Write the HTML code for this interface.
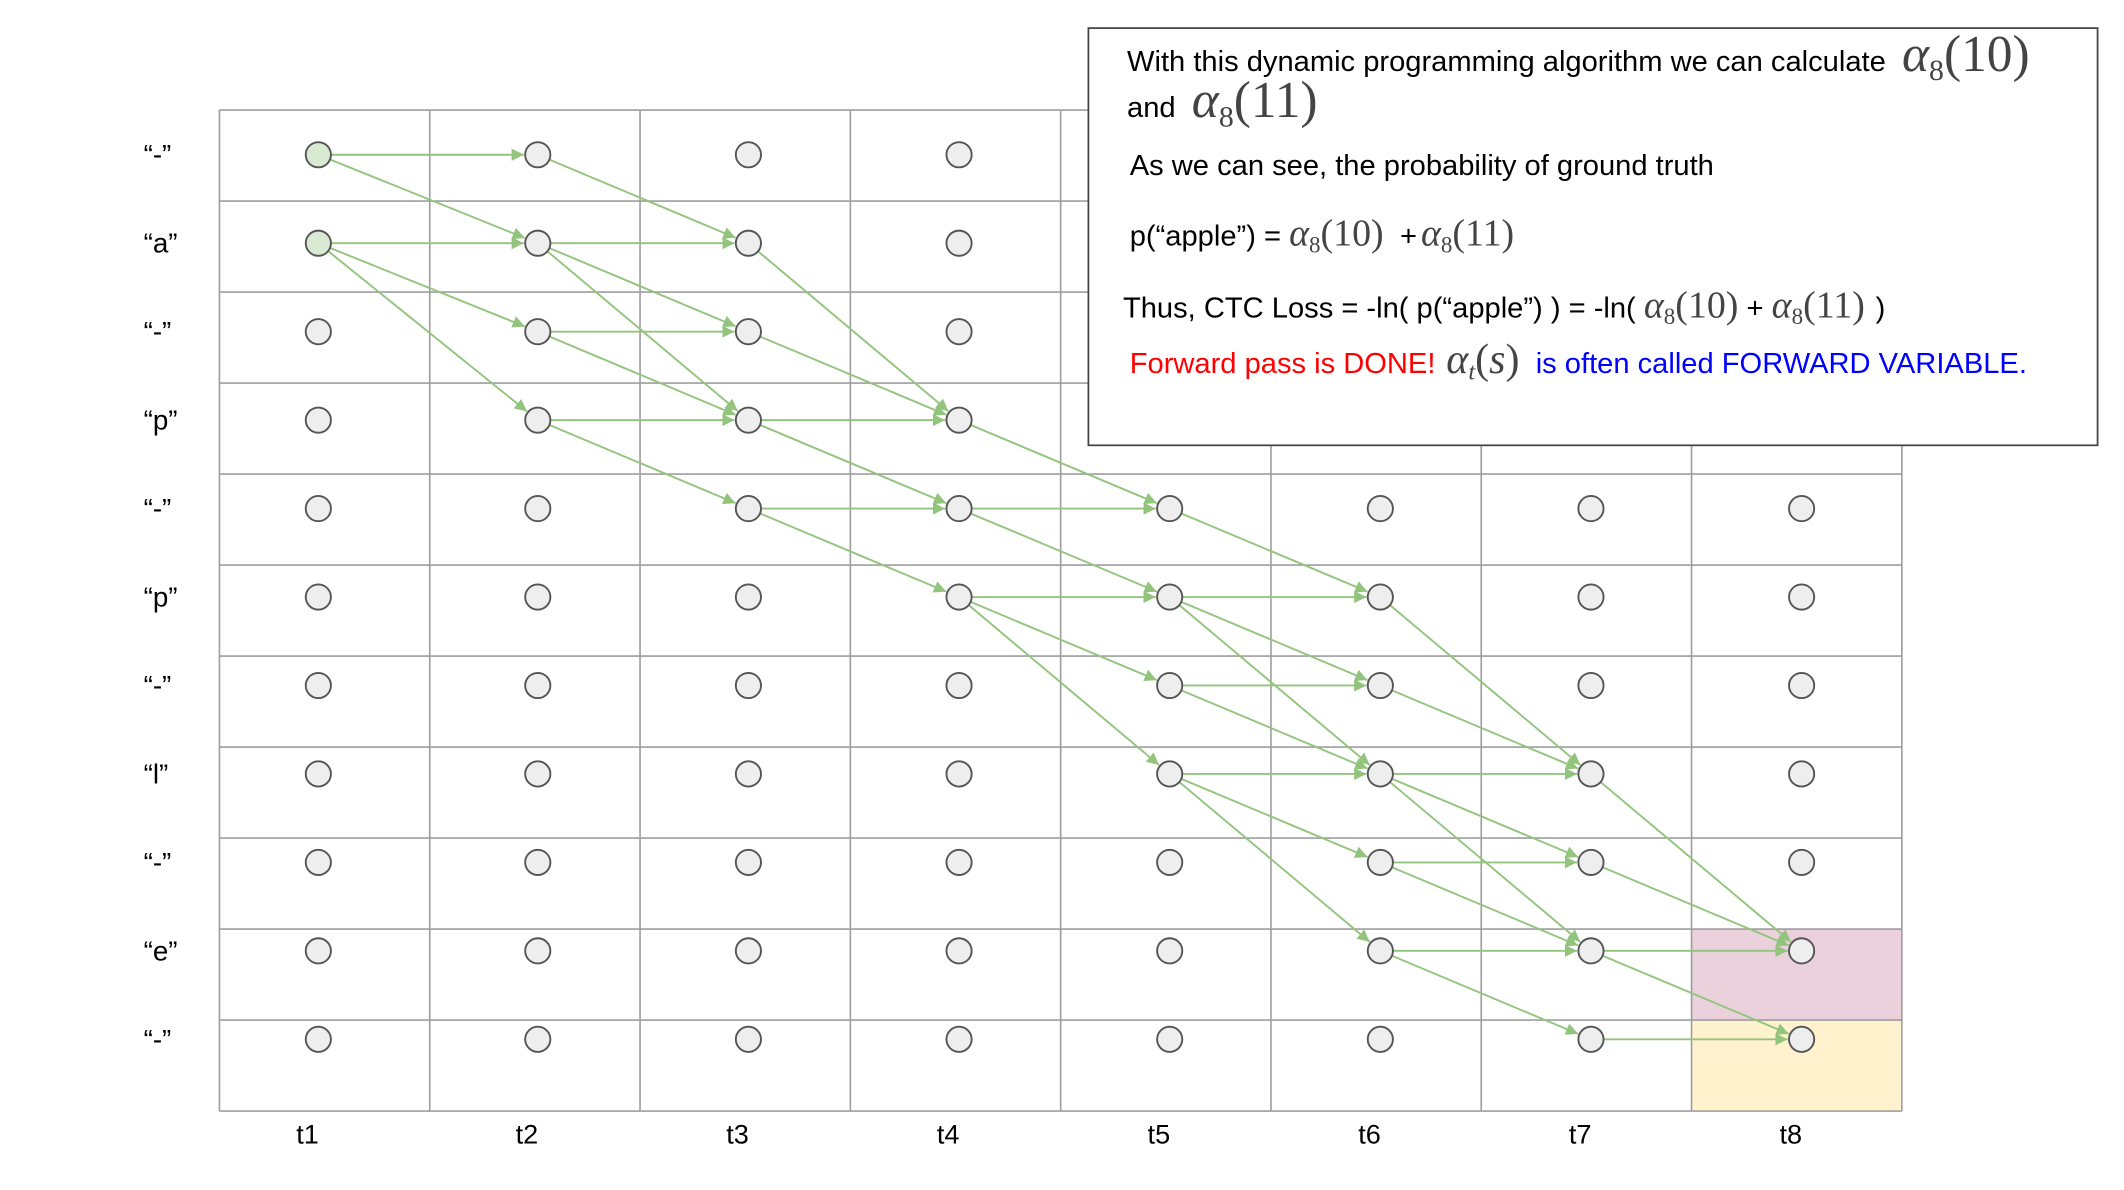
<!DOCTYPE html>
<html><head><meta charset="utf-8"><style>
html,body{margin:0;padding:0;background:#fff;width:2124px;height:1190px;overflow:hidden}
svg{display:block}
text{font-family:"Liberation Sans",sans-serif}
.m{font-family:"Liberation Serif",serif;font-style:italic;fill:#444}
.mn{font-family:"Liberation Serif",serif;fill:#444;font-style:normal}
</style></head><body>
<svg id="chart" width="2124" height="1190" viewBox="0 0 1568 878" xmlns="http://www.w3.org/2000/svg">
<defs><marker id="ah" viewBox="0 0 10 10" refX="10" refY="5" markerWidth="9" markerHeight="9" markerUnits="userSpaceOnUse" orient="auto"><path d="M0,0 L10,5 L0,10 z" fill="#93c47d"/></marker></defs>
<g id="cells"></g><g id="grid"></g><g id="edges"></g><g id="nodes"></g><g id="labels"></g>
<g>
<rect x="803.5" y="20.5" width="745" height="308" fill="#fff" stroke="#444" stroke-width="1.3"/>
<text x="832" y="52" font-size="21.5">With this dynamic programming algorithm we can calculate <tspan class="m" font-size="38" dx="6">α</tspan><tspan class="mn" font-size="22" dy="7">8</tspan><tspan class="mn" font-size="38" dy="-7">(10)</tspan></text>
<text x="832" y="86" font-size="21.5">and <tspan class="m" font-size="38" dx="6">α</tspan><tspan class="mn" font-size="22" dy="7">8</tspan><tspan class="mn" font-size="38" dy="-7">(11)</tspan></text>
<text x="834" y="129" font-size="21.5">As we can see, the probability of ground truth</text>
<text x="834" y="181" font-size="21.5">p(“apple”) = <tspan class="m" font-size="28">α</tspan><tspan class="mn" font-size="17" dy="5">8</tspan><tspan class="mn" font-size="28" dy="-5">(10)</tspan><tspan dx="12">+</tspan><tspan class="m" font-size="28" dx="3">α</tspan><tspan class="mn" font-size="17" dy="5">8</tspan><tspan class="mn" font-size="28" dy="-5">(11)</tspan></text>
<text x="829" y="234" font-size="21.5">Thus, CTC Loss = -ln( p(“apple”) ) = -ln( <tspan class="m" font-size="28">α</tspan><tspan class="mn" font-size="17" dy="5">8</tspan><tspan class="mn" font-size="28" dy="-5">(10)</tspan><tspan dx="6">+</tspan><tspan class="m" font-size="28" dx="6">α</tspan><tspan class="mn" font-size="17" dy="5">8</tspan><tspan class="mn" font-size="28" dy="-5">(11)</tspan><tspan dx="8">)</tspan></text>
<text x="834" y="275" font-size="21.5"><tspan fill="#ff0000">Forward pass is DONE!</tspan><tspan class="m" font-size="31" dx="8">α</tspan><tspan class="m" font-size="18" dy="5">t</tspan><tspan class="mn" font-size="31" dy="-5">(</tspan><tspan class="m" font-size="31">s</tspan><tspan class="mn" font-size="31">)</tspan><tspan fill="#0000ff" dx="12">is often called FORWARD VARIABLE.</tspan></text>
</g>
</svg>
<script>
const timeLabels=["t1","t2","t3","t4","t5","t6","t7","t8"];
const stateLabels=["“-”","“a”","“-”","“p”","“-”","“p”","“-”","“l”","“-”","“e”","“-”"];
const startStates=[0,1];
// edges: [timeIndex, fromState, toState]
const edges=[
[0,0,0],[0,0,1],[0,1,1],[0,1,2],[0,1,3],
[1,0,1],[1,1,1],[1,1,2],[1,1,3],[1,2,2],[1,2,3],[1,3,3],[1,3,4],
[2,1,3],[2,2,3],[2,3,3],[2,3,4],[2,4,4],[2,4,5],
[3,3,4],[3,4,4],[3,4,5],[3,5,5],[3,5,6],[3,5,7],
[4,4,5],[4,5,5],[4,5,6],[4,5,7],[4,6,6],[4,6,7],[4,7,7],[4,7,8],[4,7,9],
[5,5,7],[5,6,7],[5,7,7],[5,7,8],[5,7,9],[5,8,8],[5,8,9],[5,9,9],[5,9,10],
[6,7,9],[6,8,9],[6,9,9],[6,9,10],[6,10,10]
];
const highlightCells=[[7,9,"#ead1dc"],[7,10,"#fff2cc"]];
const NS="http://www.w3.org/2000/svg";
const gx0=162,gx1=1404,gy0=81,gy1=820;
const cw=(gx1-gx0)/timeLabels.length, rh=(gy1-gy0)/stateLabels.length;
const nodeXs=i=>i===0?235:397+(i-1)*155.5;
const nodeY=s=>114+s*65.3;
function mk(t,a,p){const e=document.createElementNS(NS,t);for(const k in a)e.setAttribute(k,a[k]);p.appendChild(e);return e;}
const cells=document.getElementById('cells');
highlightCells.forEach(h=>{
 const r=mk('rect',{x:gx0+cw*h[0],y:gy0+rh*h[1],width:cw,height:rh,fill:h[2]},cells);
 
 
});
const grid=document.getElementById('grid');
for(let i=0;i<=timeLabels.length;i++){const l=mk('line',{x1:gx0+cw*i,x2:gx0+cw*i,y1:gy0,y2:gy1,stroke:'#9e9e9e','stroke-width':1.2},grid);
 
 }
for(let j=0;j<=stateLabels.length;j++){const l=mk('line',{x1:gx0,x2:gx1,y1:gy0+rh*j,y2:gy0+rh*j,stroke:'#9e9e9e','stroke-width':1.2},grid);
 
 }
const R=9.3;
const eg=document.getElementById('edges');
edges.forEach(e=>{
 const x1=nodeXs(e[0]),y1=nodeY(e[1]),x2=nodeXs(e[0]+1),y2=nodeY(e[2]);
 const dx=x2-x1,dy=y2-y1,d=Math.hypot(dx,dy);
 const l=mk('line',{x1:x1+dx/d*R,y1:y1+dy/d*R,x2:x2-dx/d*(R+1),y2:y2-dy/d*(R+1),stroke:'#93c47d','stroke-width':1.4,'marker-end':'url(#ah)'},eg);
 
 
});
const ng=document.getElementById('nodes');
for(let i=0;i<timeLabels.length;i++)for(let s=0;s<stateLabels.length;s++){
 const c=mk('circle',{cx:nodeXs(i),cy:nodeY(s),r:R,fill:(i===0&&startStates.includes(s))?'#d9ead3':'#eeeeee',stroke:'#555','stroke-width':1.4},ng);
 
 
}
const lg=document.getElementById('labels');
stateLabels.forEach((t,s)=>{const e=mk('text',{x:106,y:nodeY(s)+7,'font-size':20.5},lg);e.textContent=t;
 
 });
timeLabels.forEach((t,i)=>{const e=mk('text',{x:nodeXs(i)-8,y:844,'font-size':20,'text-anchor':'middle'},lg);e.textContent=t;
 
 });
</script>
</body></html>
